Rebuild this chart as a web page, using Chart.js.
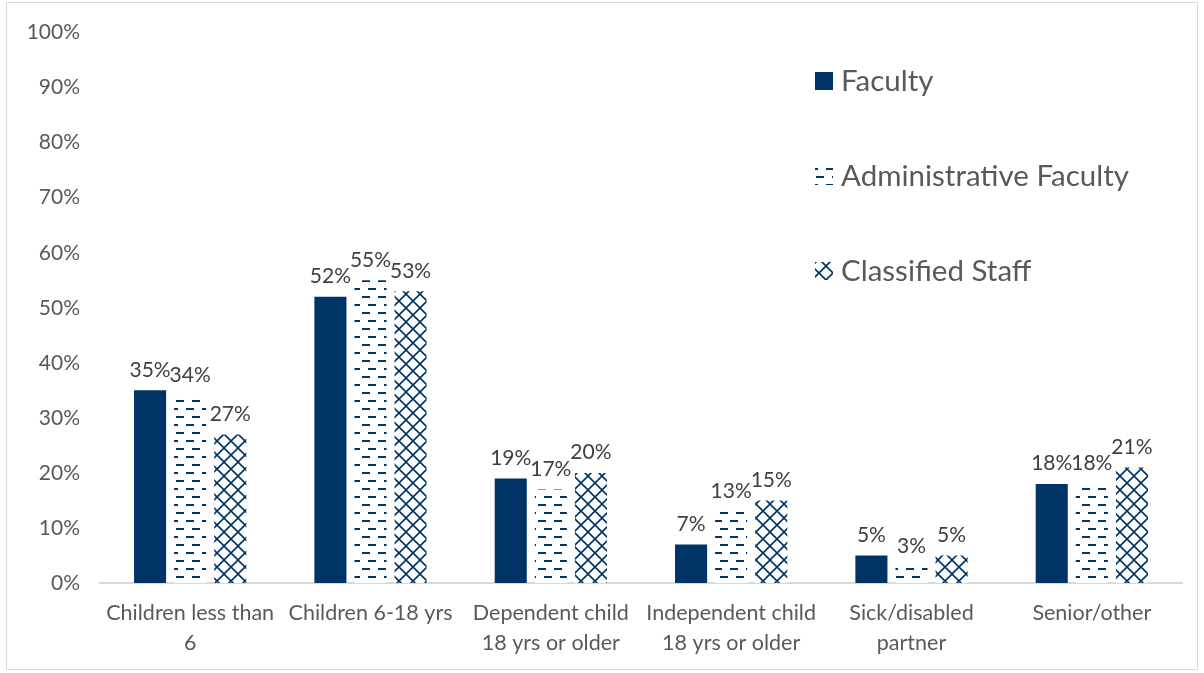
<!DOCTYPE html>
<html>
<head>
<meta charset="utf-8">
<script src="https://cdn.jsdelivr.net/npm/chart.js@4.4.1/dist/chart.umd.min.js"></script>
<style>
  html,body{margin:0;padding:0;background:#fff;}
  #wrap{position:absolute;left:6px;top:2px;width:1192px;height:668px;border:1px solid #d9d9d9;box-sizing:border-box;}
  #c{position:absolute;left:0;top:0;}
</style>
</head>
<body>
<div id="wrap"></div>
<canvas id="c" width="1204" height="673"></canvas>
<script>
const categories = [
  ['Children less than', '6'],
  'Children 6-18 yrs',
  ['Dependent child', '18 yrs or older'],
  ['Independent child', '18 yrs or older'],
  ['Sick/disabled', 'partner'],
  'Senior/other'
];
const seriesNames = ['Faculty', 'Administrative Faculty', 'Classified Staff'];
const facultyValues = [35, 52, 19, 7, 5, 18];
const adminValues = [34, 55, 17, 13, 3, 18];
const classifiedValues = [27, 53, 20, 15, 5, 21];
const yTickMax = 100;
const yTickStep = 10;

const NAVY = '#003366';
const FONT = 'Lato, "Open Sans", sans-serif';

function dashPattern(color){
  const c = document.createElement('canvas');
  c.width = 16; c.height = 16;
  const x = c.getContext('2d');
  x.fillStyle = '#fff'; x.fillRect(0,0,16,16);
  x.fillStyle = color;
  x.fillRect(0,0,8,2);
  x.fillRect(10,8,6,2); x.fillRect(0,8,2,2);
  return x.createPattern(c, 'repeat');
}
function diamondPattern(color){
  const c = document.createElement('canvas');
  c.width = 14; c.height = 14;
  const x = c.getContext('2d');
  x.fillStyle = '#fff'; x.fillRect(0,0,14,14);
  x.strokeStyle = color; x.lineWidth = 1.6;
  x.beginPath();
  x.moveTo(0,0); x.lineTo(14,14);
  x.moveTo(14,0); x.lineTo(0,14);
  x.stroke();
  return x.createPattern(c, 'repeat');
}
const fills = [NAVY, dashPattern(NAVY), diamondPattern(NAVY)];

const dataLabels = {
  id: 'dataLabels',
  afterDatasetsDraw(chart){
    const ctx = chart.ctx;
    ctx.save();
    ctx.font = '21px ' + FONT;
    ctx.fillStyle = '#404040';
    ctx.textAlign = 'center';
    ctx.textBaseline = 'bottom';
    chart.data.datasets.forEach((ds, i) => {
      chart.getDatasetMeta(i).data.forEach((el, j) => {
        ctx.fillText(ds.data[j] + '%', el.x, el.y - 10);
      });
    });
    ctx.restore();
  }
};

const customLegend = {
  id: 'customLegend',
  afterDraw(chart){
    const ctx = chart.ctx;
    ctx.save();
    ctx.font = '29.5px ' + FONT;
    ctx.textBaseline = 'middle';
    chart.data.datasets.forEach((ds, i) => {
      const cy = 81 + i * 95;
      ctx.fillStyle = ds.backgroundColor;
      ctx.fillRect(815, cy - 9, 18, 18);
      ctx.fillStyle = '#595959';
      ctx.fillText(ds.label, 841, cy);
    });
    ctx.restore();
  }
};

const datasets = [facultyValues, adminValues, classifiedValues].map((vals, i) => ({
  label: seriesNames[i],
  data: vals,
  backgroundColor: fills[i],
  borderWidth: 0,
  barPercentage: 0.8,
  categoryPercentage: 0.667
}));

new Chart(document.getElementById('c'), {
  type: 'bar',
  data: { labels: categories, datasets },
  options: {
    responsive: false,
    animation: false,
    devicePixelRatio: 1,
    layout: { padding: { left: 22, right: 22, top: 22, bottom: 0 } },
    plugins: { legend: { display: false }, tooltip: { enabled: false } },
    scales: {
      y: {
        min: 0, max: yTickMax,
        ticks: { stepSize: yTickStep, callback: v => v + '%', color: '#595959', font: { size: 21, family: FONT }, padding: 20 },
        grid: { display: false, drawTicks: false },
        border: { display: false },
        afterFit: s => { s.width = 78; }
      },
      x: {
        ticks: { color: '#595959', font: { size: 21.5, family: FONT, lineHeight: 1.4 }, padding: 15, maxRotation: 0, autoSkip: false },
        grid: { display: false, drawTicks: false },
        border: { display: true, color: '#d9d9d9', width: 2 },
        afterFit: s => { s.height = 90; }
      }
    }
  },
  plugins: [dataLabels, customLegend]
});
</script>
</body>
</html>
